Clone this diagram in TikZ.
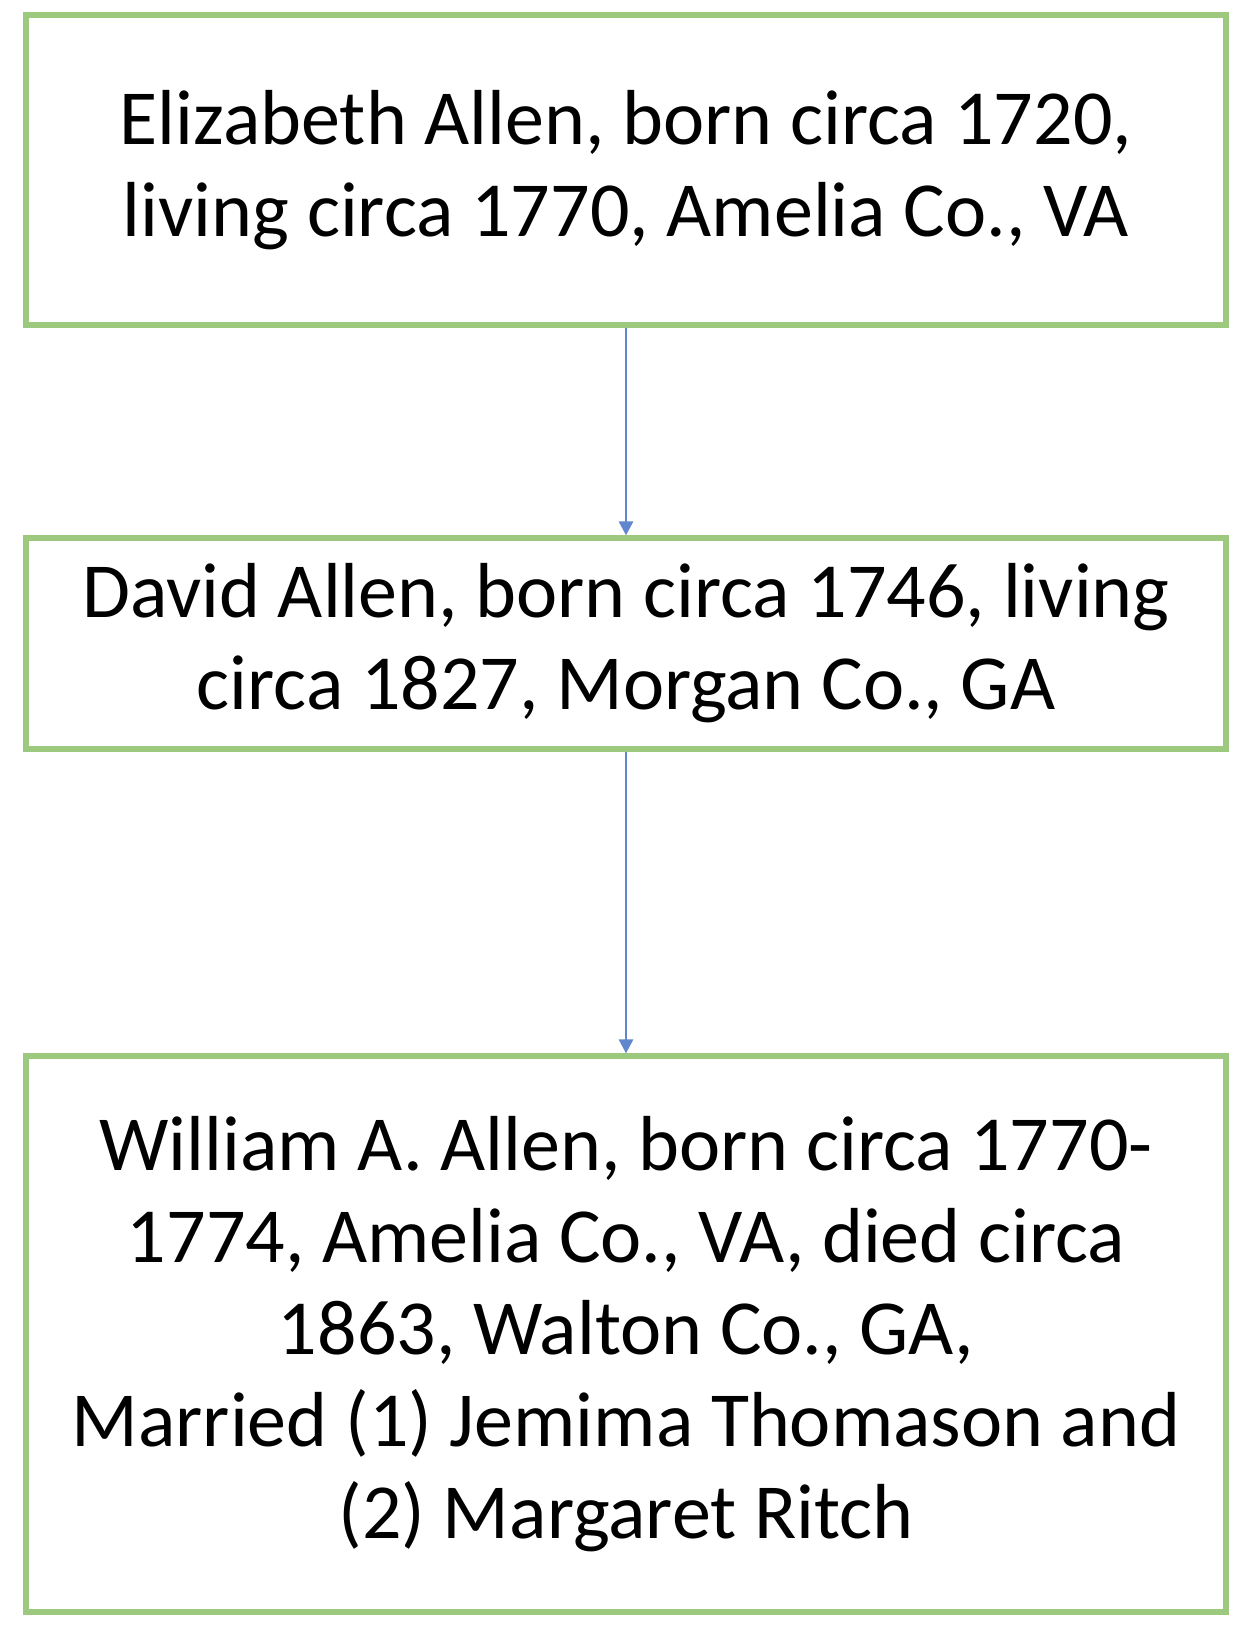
\documentclass[tikz,border=0pt]{standalone}
\usepackage{fontspec}
\setmainfont{Carlito}
\usetikzlibrary{arrows.meta}
\definecolor{boxgreen}{RGB}{157,201,127}
\definecolor{linkblue}{RGB}{68,114,196}

\begin{document}
\begin{tikzpicture}[
	thick,
	font=\fontsize{39}{46}\selectfont
]
\tikzset{
    personbox/.style = {rectangle, draw=boxgreen, line width=2.6pt, align=center, fill=white, minimum width=600pt, inner sep=0pt},
    linkarrow/.style = {-{Triangle[length=7pt,width=7pt]}, line width=1.4pt, draw=linkblue!85},
}
\useasboundingbox (0,0) rectangle (622pt,-818pt);
%
\node[personbox, minimum height=155pt] at (313pt,-85pt) (eliz) {Elizabeth Allen, born circa 1720,\\living circa 1770, Amelia Co., VA};
\node[personbox, minimum height=105.5pt] at (313pt,-321.75pt) (david) {David Allen, born circa 1746, living\\circa 1827, Morgan Co., GA};
\node[personbox, minimum height=278pt] at (313pt,-667pt) (william) {William A. Allen, born circa 1770-\\1774, Amelia Co., VA, died circa\\1863, Walton Co., GA,\\Married (1) Jemima Thomason and\\(2) Margaret Ritch};
%
\draw[linkarrow] (eliz) -- (david);
\draw[linkarrow] (david) -- (william);
\end{tikzpicture}
\end{document}
